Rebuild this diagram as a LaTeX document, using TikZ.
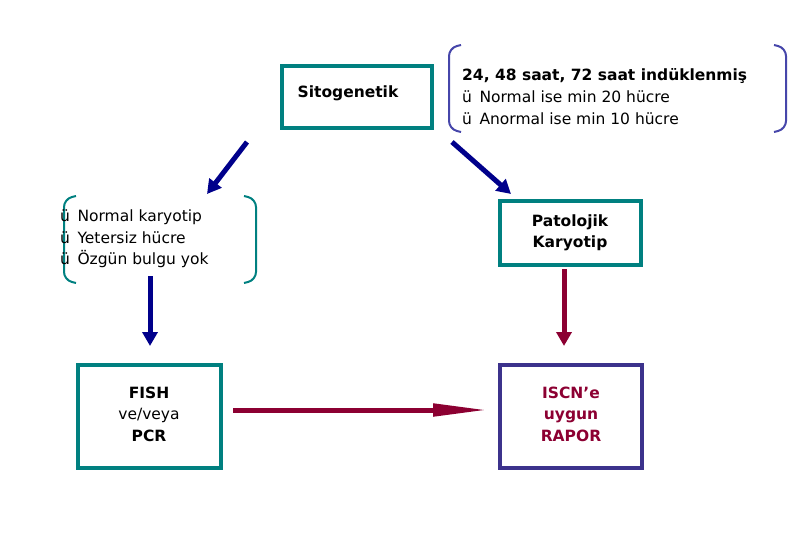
\documentclass[tikz,border=0pt]{standalone}
\usepackage{fontspec}
\setmainfont{DejaVu Sans}
\usetikzlibrary{arrows.meta,positioning}
\definecolor{tealbox}{RGB}{0,128,128}
\definecolor{navyarr}{RGB}{0,0,139}
\definecolor{maroonarr}{RGB}{140,0,50}
\definecolor{slatebox}{RGB}{60,50,140}
\definecolor{brackblue}{RGB}{70,70,170}
\begin{document}
\begin{tikzpicture}
		[   x=1pt,y=-1pt,
		    tbox/.style={draw=#1,line width=3.5pt,inner sep=0pt},
		    ptext/.style={font=\fontsize{15.5}{21.5}\selectfont,align=left,anchor=west,inner sep=0pt},
		]
		\tikzset{block arrow/.style={draw=#1,line width=5pt,
				-{Triangle[length=14pt,width=15pt]}}}
		\useasboundingbox (0,0) rectangle (810,540);
		
		% boxes
		\draw[tbox=tealbox] (282,66) rectangle (432,128);
		\node[font=\fontsize{15.5}{16}\selectfont\bfseries] (sito) at (348,93) {Sitogenetik};
		
		\draw[tbox=tealbox] (500,201) rectangle (641,265);
		\node[font=\fontsize{15.5}{21}\selectfont\bfseries,align=center] (pato) at (570,233) {Patolojik\\Karyotip};
		
		\draw[tbox=tealbox] (78,365) rectangle (221,468);
		\node[font=\fontsize{15.5}{21.5}\selectfont,align=center] (fish) at (149,414) {\textbf{FISH}\\ve/veya\\\textbf{PCR}};
		
		\draw[tbox=slatebox] (500,365) rectangle (642,468);
		\node[font=\fontsize{15.5}{21.5}\selectfont\bfseries,align=center,text=maroonarr] (iscn) at (571,414) {ISCN’e\\uygun\\RAPOR};
		
		% bracket groups
		\draw[tealbox,line width=2pt,rounded corners=8pt] (76,196) -- (64,199) -- (64,280) -- (76,283);
		\draw[tealbox,line width=2pt,rounded corners=8pt] (244,196) -- (256,199) -- (256,280) -- (244,283);
		\node[ptext] (left) at (60,239) {ü\, Normal karyotip\\ü\, Yetersiz hücre\\ü\, Özgün bulgu yok};
		
		\draw[brackblue,line width=2pt,rounded corners=8pt] (461,45) -- (449,48) -- (449,129) -- (461,132);
		\draw[brackblue,line width=2pt,rounded corners=8pt] (774,45) -- (786,48) -- (786,129) -- (774,132);
		\node[ptext,font=\fontsize{15.5}{16}\selectfont\bfseries] (ind) at (462,76) {24, 48 saat, 72 saat indüklenmiş};
		\node[ptext,font=\fontsize{15.5}{22}\selectfont] (min) at (462,108) {ü\, Normal ise min 20 hücre\\ü\, Anormal ise min 10 hücre};
		
		% arrows
		\coordinate (a1) at (247,142);
		\coordinate (a2) at (207,194);
		\coordinate (b1) at (452,142);
		\coordinate (b2) at (511,194);
		\coordinate (c1) at (150,276);
		\coordinate (c2) at (150,346);
		\coordinate (d1) at (564,269);
		\coordinate (d2) at (564,346);
		\coordinate (e1) at (233,410);
		\coordinate (e2) at (488,410);
		\draw[block arrow=navyarr] (a1) -- (a2);
		\draw[block arrow=navyarr] (b1) -- (b2);
		\draw[block arrow=navyarr] (c1) -- (c2);
		\draw[block arrow=maroonarr] (d1) -- (d2);
		\draw[block arrow=maroonarr,-{Triangle[length=55pt,width=12pt]}] (e1) -- (e2);
		
\end{tikzpicture}
\end{document}
